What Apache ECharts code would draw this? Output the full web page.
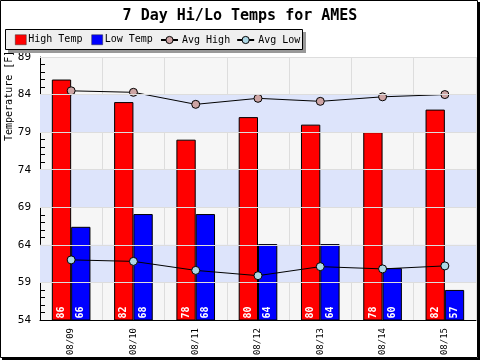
<!DOCTYPE html>
<html>
<head>
<meta charset="utf-8">
<script src="https://cdn.jsdelivr.net/npm/echarts@6/dist/echarts.min.js"></script>
<style>html,body{margin:0;padding:0;background:#fff}#c{width:480px;height:360px}</style>
</head>
<body>
<div id="c"></div>
<script>
var categories = ['08/09','08/10','08/11','08/12','08/13','08/14','08/15'];
var highTemps = [86, 83, 78, 81, 80, 79, 82];
var highLabels = ['86','82','78','80','80','78','82'];
var lowTemps = [66.4, 68.1, 68.1, 64.1, 64.1, 60.9, 58];
var lowLabels = ['66','68','68','64','64','60','57'];
var avgHigh = [84.5, 84.3, 82.7, 83.5, 83.1, 83.7, 84.0];
var avgLow = [62.0, 61.8, 60.6, 59.9, 61.1, 60.8, 61.2];
var yTicks = [54, 59, 64, 69, 74, 79, 84, 89];
var yMinorTicks = [];
for (var t = 54; t <= 89; t++) yMinorTicks.push(t);
var blueBands = [[59, 64], [69, 74], [79, 84]];

var MONO = '"DejaVu Sans Mono", monospace';
var chart = echarts.init(document.getElementById('c'), null, {renderer: 'canvas'});

var bandData = blueBands.map(function (b) { return [{yAxis: b[0]}, {yAxis: b[1]}]; });
var lineData = yTicks.slice(1).map(function (v) { return {yAxis: v}; });

function labelFrom(arr) {
  return function (p) { return arr[p.dataIndex]; };
}

var option = {
  animation: false,
  backgroundColor: '#ffffff',
  title: {
    text: '7 Day Hi/Lo Temps for AMES',
    left: 'center',
    top: 4,
    textStyle: {fontFamily: MONO, fontWeight: 'bold', fontSize: 15, color: '#000'}
  },
  legend: [{
    data: [{name: 'High Temp', icon: 'rect'}, {name: 'Low Temp', icon: 'rect'}],
    left: 15, top: 34.5, padding: 0, z: 200,
    itemWidth: 11, itemHeight: 10, itemGap: 9,
    itemStyle: {borderColor: '#333', borderWidth: 0.5},
    textStyle: {fontFamily: MONO, fontSize: 10, color: '#000', padding: [0, 0, 0, -3]}
  }, {
    data: ['Avg High', 'Avg Low'],
    left: 160, top: 35, padding: 0, z: 200,
    itemWidth: 17, itemHeight: 9, itemGap: 6,
    itemStyle: {borderColor: '#000', borderWidth: 1},
    textStyle: {fontFamily: MONO, fontSize: 10, color: '#000', padding: [0, 0, 0, -1]}
  }],
  grid: {
    left: 40, right: 4, top: 57, bottom: 40,
    show: true, backgroundColor: '#f6f6f6', borderWidth: 0
  },
  xAxis: {
    type: 'category',
    data: categories,
    boundaryGap: true,
    axisLine: {lineStyle: {color: '#000', width: 1}},
    axisTick: {inside: true, length: 5, lineStyle: {color: '#000'}},
    splitLine: {show: true, lineStyle: {color: '#dddddd', width: 1}},
    axisLabel: {rotate: 90, margin: 8, fontFamily: MONO, fontSize: 9, color: '#000'}
  },
  yAxis: {
    type: 'value',
    min: 54, max: 89,
    axisLine: {show: true, lineStyle: {color: '#000', width: 1}},
    axisTick: {show: true, inside: true, length: 5, customValues: yMinorTicks, lineStyle: {color: '#000'}},
    axisLabel: {customValues: yTicks, margin: 9, fontFamily: MONO, fontSize: 11, color: '#000'},
    splitLine: {show: false}
  },
  series: [{
    name: 'bands',
    type: 'line',
    data: [],
    z: 1,
    silent: true,
    markArea: {
      silent: true,
      itemStyle: {color: '#dde4fb'},
      data: bandData
    },
    markLine: {
      silent: true,
      symbol: ['none', 'none'],
      label: {show: false},
      lineStyle: {color: '#dddddd', type: 'solid', width: 1},
      data: lineData
    }
  }, {
    name: 'High Temp',
    type: 'bar',
    data: highTemps,
    barGap: '0%',
    barCategoryGap: '38%',
    z: 2,
    itemStyle: {color: '#ff0000', borderColor: '#000', borderWidth: 1},
    label: {
      show: true, position: 'insideBottom', rotate: 90, align: 'left', verticalAlign: 'middle',
      distance: 2, color: '#fff', fontWeight: 'bold', fontFamily: MONO, fontSize: 10,
      formatter: labelFrom(highLabels)
    }
  }, {
    name: 'Low Temp',
    type: 'bar',
    data: lowTemps,
    barGap: '0%',
    barCategoryGap: '38%',
    z: 2,
    itemStyle: {color: '#0000ff', borderColor: '#000', borderWidth: 1},
    label: {
      show: true, position: 'insideBottom', rotate: 90, align: 'left', verticalAlign: 'middle',
      distance: 2, color: '#fff', fontWeight: 'bold', fontFamily: MONO, fontSize: 10,
      formatter: labelFrom(lowLabels)
    }
  }, {
    name: 'Avg High',
    type: 'line',
    data: avgHigh,
    z: 3,
    symbol: 'circle', symbolSize: 8,
    lineStyle: {color: '#000', width: 1},
    itemStyle: {color: '#cda4a4', borderColor: '#000', borderWidth: 1}
  }, {
    name: 'Avg Low',
    type: 'line',
    data: avgLow,
    z: 3,
    symbol: 'circle', symbolSize: 8,
    lineStyle: {color: '#000', width: 1},
    itemStyle: {color: '#add8e6', borderColor: '#000', borderWidth: 1}
  }],
  graphic: [{
    type: 'text',
    x: 4, y: 141,
    rotation: Math.PI / 2,
    z: 1,
    style: {text: 'Temperature [F]', fontFamily: MONO, fontSize: 10, fill: '#000', textAlign: 'left', textVerticalAlign: 'top'}
  }, {
    type: 'rect',
    shape: {x: 8, y: 32, width: 298, height: 21},
    z: 50,
    style: {fill: '#999999'}
  }, {
    type: 'rect',
    shape: {x: 5.5, y: 29.5, width: 297, height: 20},
    z: 51,
    style: {fill: '#efefef', stroke: '#000', lineWidth: 1}
  }, {
    type: 'rect',
    shape: {x: 0.5, y: 0.5, width: 477, height: 357},
    z: 60,
    style: {fill: null, stroke: '#000', lineWidth: 1}
  }, {
    type: 'rect',
    shape: {x: 478, y: 2, width: 2, height: 358},
    z: 60,
    style: {fill: '#000'}
  }, {
    type: 'rect',
    shape: {x: 2, y: 358, width: 478, height: 2},
    z: 60,
    style: {fill: '#000'}
  }]
};
chart.setOption(option);
</script>
</body>
</html>
